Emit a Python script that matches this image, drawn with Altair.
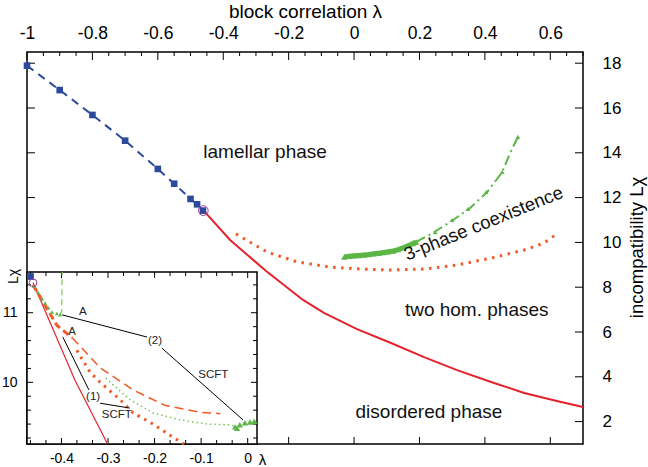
import altair as alt
import pandas as pd
import numpy as np

W, H = 556, 392
FONT = "Liberation Sans"

# ---------------- main panel data ----------------
blue_lam = [-1.0, -0.9, -0.8, -0.7, -0.6, -0.55, -0.5, -0.48, -0.462]
blue_lchi = [17.89, 16.8, 15.69, 14.54, 13.28, 12.62, 11.94, 11.70, 11.42]

red_lam = [-0.46, -0.379, -0.269, -0.156, -0.092, 0.009, 0.113, 0.214, 0.315, 0.419, 0.520, 0.620, 0.700]
red_lchi = [11.42, 10.11, 8.72, 7.43, 6.85, 6.13, 5.51, 4.88, 4.30, 3.77, 3.28, 2.92, 2.65]

org_lam = [-0.361, -0.266, -0.174, -0.074, 0.018, 0.113, 0.214, 0.315, 0.419, 0.520, 0.581, 0.620]
org_lchi = [10.38, 9.57, 9.13, 8.90, 8.81, 8.77, 8.81, 8.99, 9.30, 9.66, 9.97, 10.38]

grn_band_lam = [-0.03, -0.015, 0.0, 0.015, 0.03, 0.045, 0.06, 0.075, 0.09, 0.105, 0.12, 0.135, 0.15, 0.165, 0.18, 0.19]
grn_band_lchi = [9.35, 9.38, 9.40, 9.42, 9.44, 9.46, 9.49, 9.52, 9.55, 9.58, 9.62, 9.68, 9.76, 9.85, 9.95, 10.02]

grn_dd_lam = [0.19, 0.241, 0.303, 0.355, 0.407, 0.453, 0.477, 0.501]
grn_dd_lchi = [10.02, 10.42, 11.0, 11.54, 12.25, 13.14, 13.99, 14.71]

grn_tri_lam = [0.248, 0.300, 0.348, 0.404, 0.453, 0.501]
grn_tri_lchi = [10.46, 11.0, 11.49, 12.25, 13.14, 14.71]

crit_lam = [-0.461]
crit_lchi = [11.42]

region_text = ["lamellar phase", "two hom. phases", "disordered phase"]
region_lam = [-0.272, 0.375, 0.229]
region_lchi = [14.03, 6.97, 2.43]
coex_text = ["3-phase coexistence"]
coex_lam = [0.396]
coex_lchi = [10.85]

top_major = [-1.0, -0.8, -0.6, -0.4, -0.2, 0.0, 0.2, 0.4, 0.6]
top_minor = [round(v, 3) for v in np.arange(-1.0, 0.7001, 0.05) if abs(round(v / 0.2) - v / 0.2) > 1e-6]
y_major = [2, 4, 6, 8, 10, 12, 14, 16, 18]

# ---------------- inset data ----------------
ins_x_dom = [-0.474, 0.02]
ins_y_dom = [9.114, 11.585]

i_red_lam = [-0.461, -0.371, -0.301]
i_red_lchi = [11.43, 10.03, 9.114]

i_odash_a_lam = [-0.461, -0.410, -0.377]
i_odash_a_lchi = [11.40, 10.82, 10.64]
i_odash_b_lam = [-0.377, -0.317, -0.246, -0.178, -0.102, -0.059]
i_odash_b_lchi = [10.64, 10.21, 9.89, 9.67, 9.57, 9.55]

i_odot_lam = [-0.367, -0.339, -0.317, -0.274, -0.246, -0.203, -0.160, -0.137]
i_odot_lchi = [10.46, 10.15, 10.0, 9.75, 9.56, 9.40, 9.21, 9.114]

i_gdot_lam = [-0.305, -0.253, -0.203, -0.145, -0.087, -0.038, -0.027]
i_gdot_lchi = [10.06, 9.75, 9.56, 9.46, 9.40, 9.39, 9.37]

i_gdash_lam = [-0.403, -0.3995, -0.399, -0.399, -0.3985]
i_gdash_lchi = [10.97, 11.02, 11.2, 11.4, 11.585]

i_gtri1_lam = [-0.459, -0.45, -0.442, -0.435, -0.428, -0.42, -0.41, -0.403]
i_gtri1_lchi = [11.38, 11.29, 11.2, 11.14, 11.07, 11.01, 10.99, 10.97]

i_gtri2_lam = [-0.027, -0.023, -0.017, -0.006, 0.005, 0.014]
i_gtri2_lchi = [9.36, 9.34, 9.39, 9.42, 9.43, 9.44]

i_blue_lam = [-0.4665]
i_blue_lchi = [11.52]

seg_x1 = [-0.399, -0.184, -0.397, -0.317]
seg_y1 = [10.97, 10.49, 10.65, 9.70]
seg_x2 = [-0.216, -0.010, -0.341, -0.253]
seg_y2 = [10.65, 9.46, 9.89, 9.63]

ins_text = ["A", "A", "(2)", "SCFT", "(1)", "SCFT"]
ins_text_lam = [-0.354, -0.377, -0.199, -0.074, -0.332, -0.281]
ins_text_lchi = [11.01, 10.72, 10.59, 10.11, 9.79, 9.53]

ins_x_major = [-0.4, -0.3, -0.2, -0.1, 0.0]
ins_x_minor = [round(-0.4 - 0.1 / 3 * k, 4) for k in (1, 2)] + \
    [round(m + d, 4) for m in [-0.4, -0.3, -0.2, -0.1] for d in (0.1 / 3, 0.2 / 3)]
ins_y_major = [10, 11]
ins_y_minor = [9.2, 9.4, 9.6, 9.8, 10.2, 10.4, 10.6, 10.8, 11.2, 11.4]

# ---------------- colours ----------------
BLUE = "#2c4a9c"
RED = "#e5222b"
ORANGE = "#f15a24"
GREEN = "#5cb646"
LGREEN = "#7cc55a"
PURPLE = "#a03a9a"

LBL = "(datum.value < 0 ? '-' : '') + format(abs(datum.value), '~g')"


def MX():
    return alt.Scale(domain=[-1.0, 0.7], nice=False, zero=False)


def MY():
    return alt.Scale(domain=[1.0, 18.5], nice=False, zero=False)


def IX():
    return alt.Scale(domain=ins_x_dom, range=[0, 230], nice=False, zero=False)


def IY():
    return alt.Scale(domain=ins_y_dom, range=[H, 220], nice=False, zero=False)


xax_main = alt.Axis(orient="top", values=top_major, labelExpr=LBL, ticks=False, tickSize=0,
                    domain=False, grid=False, labelFontSize=17.5, labelPadding=14,
                    labelBaseline="alphabetic", labelFlush=False, labelOverlap=False,
                    labelColor="black", title="block correlation λ", titleFontSize=19,
                    titleFontWeight="normal", titleY=-35, titleBaseline="alphabetic",
                    titleColor="black", zindex=1)
yax_main = alt.Axis(orient="right", values=y_major, ticks=False, tickSize=0, domain=False,
                    grid=False, labelFontSize=17, labelPadding=19, labelFlush=False,
                    labelOverlap=False, labelColor="black", title="incompatibility Lχ",
                    titleFontSize=18.5, titleFontWeight="normal", titleAngle=270, titleX=53,
                    titleY=195, titleAlign="center", titleBaseline="middle", titleColor="black",
                    zindex=1)
ixax = alt.Axis(orient="bottom", values=ins_x_major, labelExpr=LBL, ticks=False, tickSize=0,
                domain=False, grid=False, labelFontSize=14, labelPadding=7, labelFlush=False,
                labelOverlap=False, labelColor="black", title="λ", titleFontSize=15,
                titleFontWeight="normal", titleX=235, titleY=15, titleAlign="center",
                titleBaseline="middle", titleColor="black", zindex=1)
iyax = alt.Axis(orient="left", values=ins_y_major, ticks=False, tickSize=0, domain=False,
                grid=False, labelFontSize=14, labelPadding=10, labelFlush=False,
                labelOverlap=False, labelColor="black", title="Lχ", titleFontSize=14,
                titleFontWeight="normal", titleAngle=270, titleX=-14, titleY=224,
                titleAlign="center", titleBaseline="middle", titleColor="black", zindex=1)


def df_line(lam, lchi):
    return pd.DataFrame({"lam": lam, "lchi": lchi, "i": list(range(len(lam)))})


def mx(axis=None):
    return alt.X("lam:Q", scale=MX(), axis=axis)


def my(axis=None):
    return alt.Y("lchi:Q", scale=MY(), axis=axis)


def ix(axis=None):
    return alt.X("lam:Q", scale=IX(), axis=axis)


def iy(axis=None):
    return alt.Y("lchi:Q", scale=IY(), axis=axis)


order = alt.Order("i:Q")

# ---------------- main layers ----------------
axes_main = alt.Chart(df_line(blue_lam, blue_lchi)).mark_point(opacity=0, size=1).encode(
    x=mx(xax_main), y=my(yax_main))

blue_line = alt.Chart(df_line(blue_lam, blue_lchi)).mark_line(
    color=BLUE, strokeWidth=2, strokeDash=[8, 6]).encode(x=mx(), y=my(), order=order)

top_maj = alt.Chart(pd.DataFrame({"lam": top_major, "lchi": [18.5] * len(top_major)})).mark_rule(
    color="black", strokeWidth=1, y2Offset=8).encode(x=mx(), y=my(), y2="lchi:Q")
top_min = alt.Chart(pd.DataFrame({"lam": top_minor, "lchi": [18.5] * len(top_minor)})).mark_rule(
    color="black", strokeWidth=1, y2Offset=4).encode(x=mx(), y=my(), y2="lchi:Q")
bot_maj = alt.Chart(pd.DataFrame({"lam": top_major, "lchi": [1.0] * len(top_major)})).mark_rule(
    color="black", strokeWidth=1, y2Offset=-7).encode(x=mx(), y=my(), y2="lchi:Q")
right_maj = alt.Chart(pd.DataFrame({"lchi": y_major, "lam": [0.7] * len(y_major)})).mark_rule(
    color="black", strokeWidth=1, x2Offset=-8).encode(y=my(), x=mx(), x2="lam:Q")
left_maj = alt.Chart(pd.DataFrame({"lchi": y_major, "lam": [-1.0] * len(y_major)})).mark_rule(
    color="black", strokeWidth=1, x2Offset=8).encode(y=my(), x=mx(), x2="lam:Q")

red_line = alt.Chart(df_line(red_lam, red_lchi)).mark_line(color=RED, strokeWidth=2).encode(
    x=mx(), y=my(), order=order)
org_line = alt.Chart(df_line(org_lam, org_lchi)).mark_line(
    color=ORANGE, strokeWidth=3, strokeDash=[2.5, 5.5]).encode(x=mx(), y=my(), order=order)
grn_band_line = alt.Chart(df_line(grn_band_lam, grn_band_lchi)).mark_line(
    color=GREEN, strokeWidth=5).encode(x=mx(), y=my(), order=order)
grn_band_pts = alt.Chart(df_line(grn_band_lam, grn_band_lchi)).mark_point(
    shape="triangle-up", filled=True, color=GREEN, size=40, opacity=1).encode(x=mx(), y=my())
grn_dd = alt.Chart(df_line(grn_dd_lam, grn_dd_lchi)).mark_line(
    color=GREEN, strokeWidth=2, strokeDash=[10, 4, 2, 4]).encode(x=mx(), y=my(), order=order)
grn_tri = alt.Chart(df_line(grn_tri_lam, grn_tri_lchi)).mark_point(
    shape="triangle-up", filled=True, color=GREEN, size=22, opacity=1).encode(x=mx(), y=my())
blue_sq = alt.Chart(df_line(blue_lam, blue_lchi)).mark_square(
    color=BLUE, size=44, opacity=1).encode(x=mx(), y=my())
crit = alt.Chart(df_line(crit_lam, crit_lchi)).mark_point(
    shape="circle", filled=False, color=PURPLE, size=95, strokeWidth=1, opacity=1).encode(x=mx(), y=my())
reg_txt = alt.Chart(pd.DataFrame({"lam": region_lam, "lchi": region_lchi, "t": region_text})).mark_text(
    font=FONT, fontSize=19, color="#111").encode(x=mx(), y=my(), text="t:N")
coex_txt = alt.Chart(pd.DataFrame({"lam": coex_lam, "lchi": coex_lchi, "t": coex_text})).mark_text(
    font=FONT, fontSize=18.5, color="#111", angle=338).encode(x=mx(), y=my(), text="t:N")

main_layers = [axes_main, blue_line, top_maj, top_min, bot_maj, right_maj, left_maj, red_line,
               org_line, grn_band_line, grn_band_pts, grn_dd, grn_tri, blue_sq, crit, reg_txt,
               coex_txt]

# ---------------- inset layers ----------------
frame = alt.Chart(pd.DataFrame({"x0": [ins_x_dom[0]], "x1": [ins_x_dom[1]],
                                "y0": [ins_y_dom[0]], "y1": [ins_y_dom[1]]})).mark_rect(
    fill="white", stroke="black", strokeWidth=1.5).encode(
    x=alt.X("x0:Q", scale=IX(), axis=None), x2="x1:Q",
    y=alt.Y("y0:Q", scale=IY(), axis=None), y2="y1:Q")

axes_inset = alt.Chart(df_line(i_red_lam, i_red_lchi)).mark_point(opacity=0, size=1).encode(
    x=ix(ixax), y=iy(iyax))


def xticks(vals, edge, off):
    return alt.Chart(pd.DataFrame({"lam": vals, "e": [edge] * len(vals)})).mark_rule(
        color="black", strokeWidth=1, y2Offset=off).encode(
        x=ix(), y=alt.Y("e:Q", scale=IY(), axis=None), y2="e:Q")


def yticks(vals, edge, off):
    return alt.Chart(pd.DataFrame({"lchi": vals, "e": [edge] * len(vals)})).mark_rule(
        color="black", strokeWidth=1, x2Offset=off).encode(
        y=iy(), x=alt.X("e:Q", scale=IX(), axis=None), x2="e:Q")


itk = [xticks(ins_x_major, ins_y_dom[0], -6), xticks(ins_x_minor, ins_y_dom[0], -4),
       xticks(ins_x_major, ins_y_dom[1], 6), xticks(ins_x_minor, ins_y_dom[1], 4),
       yticks(ins_y_major, ins_x_dom[0], 6), yticks(ins_y_minor, ins_x_dom[0], 4),
       yticks(ins_y_major, ins_x_dom[1], -6), yticks(ins_y_minor, ins_x_dom[1], -4)]

i_red = alt.Chart(df_line(i_red_lam, i_red_lchi)).mark_line(color=RED, strokeWidth=1.2).encode(
    x=ix(), y=iy(), order=order)
i_odash_a = alt.Chart(df_line(i_odash_a_lam, i_odash_a_lchi)).mark_line(
    color=ORANGE, strokeWidth=3, strokeDash=[7, 4]).encode(x=ix(), y=iy(), order=order)
i_odash_b = alt.Chart(df_line(i_odash_b_lam, i_odash_b_lchi)).mark_line(
    color=ORANGE, strokeWidth=1.5, strokeDash=[9, 5]).encode(x=ix(), y=iy(), order=order)
i_odot = alt.Chart(df_line(i_odot_lam, i_odot_lchi)).mark_line(
    color=ORANGE, strokeWidth=3, strokeDash=[2.5, 5]).encode(x=ix(), y=iy(), order=order)
i_gdot = alt.Chart(df_line(i_gdot_lam, i_gdot_lchi)).mark_line(
    color=LGREEN, strokeWidth=1.5, strokeDash=[1.5, 3]).encode(x=ix(), y=iy(), order=order)
i_gdash = alt.Chart(df_line(i_gdash_lam, i_gdash_lchi)).mark_line(
    color=LGREEN, strokeWidth=1.2, strokeDash=[6, 4]).encode(x=ix(), y=iy(), order=order)
i_gtri1 = alt.Chart(df_line(i_gtri1_lam, i_gtri1_lchi)).mark_point(
    shape="triangle-up", filled=True, color=GREEN, size=16, opacity=1).encode(x=ix(), y=iy())
i_gtri2 = alt.Chart(df_line(i_gtri2_lam, i_gtri2_lchi)).mark_point(
    shape="triangle-up", filled=True, color=GREEN, size=40, opacity=1).encode(x=ix(), y=iy())
i_blue = alt.Chart(df_line(i_blue_lam, i_blue_lchi)).mark_square(
    color=BLUE, size=45, opacity=1).encode(x=ix(), y=iy())
i_crit = alt.Chart(df_line(crit_lam, [11.43])).mark_point(
    shape="circle", filled=False, color=PURPLE, size=60, strokeWidth=1, opacity=1).encode(x=ix(), y=iy())
i_seg = alt.Chart(pd.DataFrame({"a": seg_x1, "b": seg_y1, "c": seg_x2, "d": seg_y2})).mark_rule(
    color="black", strokeWidth=1).encode(
    x=alt.X("a:Q", scale=IX(), axis=None), y=alt.Y("b:Q", scale=IY(), axis=None),
    x2="c:Q", y2="d:Q")
i_txt = alt.Chart(pd.DataFrame({"lam": ins_text_lam, "lchi": ins_text_lchi, "t": ins_text})).mark_text(
    font=FONT, fontSize=11.5, color="#222").encode(x=ix(), y=iy(), text="t:N")

inset_layers = [frame, axes_inset, *itk, i_red, i_odash_a, i_odash_b, i_odot, i_gdot, i_gdash,
                i_gtri1, i_gtri2, i_blue, i_crit, i_seg, i_txt]

chart = alt.layer(*main_layers, *inset_layers).resolve_scale(
    x="independent", y="independent").resolve_axis(x="independent", y="independent").properties(
    width=W, height=H,
    padding={"left": 27, "top": 52, "right": 65, "bottom": 23},
    autosize=alt.AutoSizeParams(type="none"),
    background="white",
).configure(font=FONT).configure_view(stroke="black", strokeWidth=1.5)

chart.save("out.html", embed_options={"renderer": "svg", "actions": False})
